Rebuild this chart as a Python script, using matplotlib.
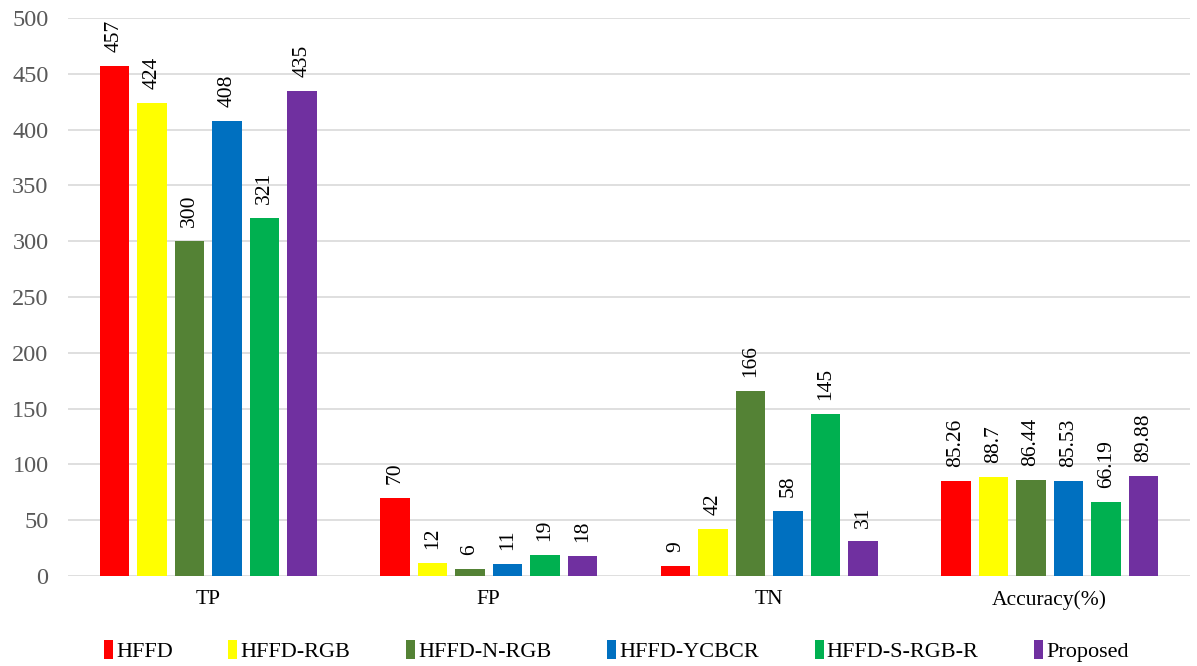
import matplotlib.pyplot as plt
import numpy as np

categories = ['TP', 'FP', 'TN', 'Accuracy(%)']
methods = ['HFFD', 'HFFD-RGB', 'HFFD-N-RGB', 'HFFD-YCBCR', 'HFFD-S-RGB-R', 'Proposed']
colors = ['#ff0000', '#ffff00', '#548235', '#0070c0', '#00b050', '#7030a0']

hffd = [457, 70, 9, 85.26]
hffd_rgb = [424, 12, 42, 88.7]
hffd_n_rgb = [300, 6, 166, 86.44]
hffd_ycbcr = [408, 11, 58, 85.53]
hffd_s_rgb_r = [321, 19, 145, 66.19]
proposed = [435, 18, 31, 89.88]
series = [hffd, hffd_rgb, hffd_n_rgb, hffd_ycbcr, hffd_s_rgb_r, proposed]

plt.rcParams['font.family'] = ['Liberation Serif', 'DejaVu Serif']

fig = plt.figure(figsize=(11.97, 6.66), dpi=100)
ax = fig.add_axes([68/1197, 90/666, 1122/1197, 558/666])

x = np.arange(len(categories))
step = 0.134
w = 0.105
for i, (vals, c, name) in enumerate(zip(series, colors, methods)):
    pos = x + (i - 2.5) * step
    ax.bar(pos, vals, width=w, color=c, label=name, zorder=3)
    for p, v in zip(pos, vals):
        ax.annotate(f'{v:g}', (p, v), xytext=(0, 10), textcoords='offset points',
                    rotation=90, ha='center', va='bottom', fontsize=15.5, color='black')

ax.set_xlim(-0.5, 3.5)
ax.set_ylim(0, 500)
ax.set_yticks(range(0, 501, 50))
ax.set_xticks(x)
ax.set_xticklabels(categories, fontsize=15.5, color='black')
ax.tick_params(axis='y', labelsize=17.5, labelcolor='#595959', length=0, pad=14)
ax.tick_params(axis='x', length=0, pad=10)
ax.yaxis.grid(True, color='#d9d9d9', linewidth=1.2, zorder=0)
for s in ax.spines.values():
    s.set_visible(False)

fig.legend(loc='center', bbox_to_anchor=(0.515, 15/666), ncol=6, frameon=False,
           fontsize=16, handlelength=0.4, handleheight=0.9, handletextpad=0.15,
           columnspacing=2.5)

fig.savefig('out.png', dpi=100)
